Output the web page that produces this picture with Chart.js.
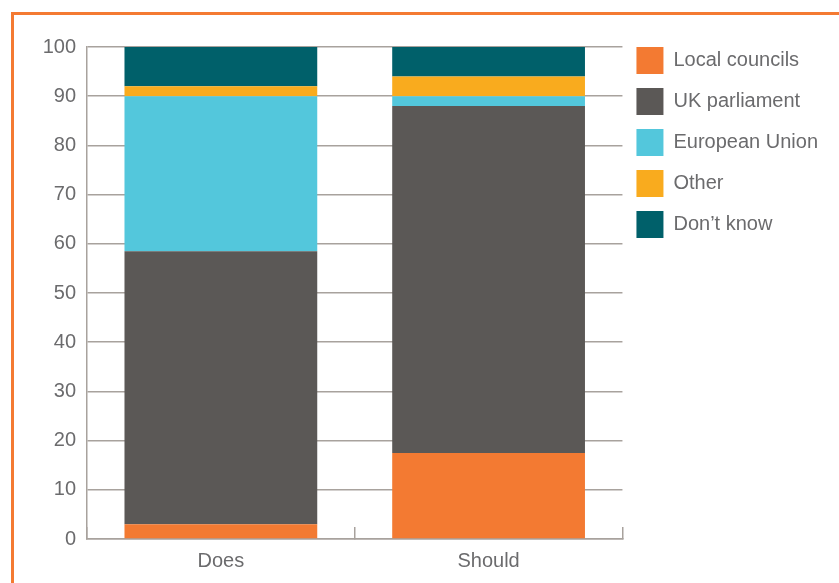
<!DOCTYPE html>
<html>
<head>
<meta charset="utf-8">
<script src="https://cdn.jsdelivr.net/npm/chart.js@4/dist/chart.umd.min.js"></script>
<style>
  html, body { margin: 0; padding: 0; background: #fff; overflow: hidden; }
  .frame {
    position: absolute; left: 11px; top: 12px;
    width: 1000px; height: 800px;
    border-left: 3px solid #f47a32; border-top: 3px solid #f47a32;
  }
  .wrap { position: absolute; left: 0; top: 0; width: 839px; height: 583px; }
</style>
</head>
<body>
<div class="frame"></div>
<div class="wrap"><canvas id="chart"></canvas></div>
<script>
const categories = ['Does', 'Should'];
const localCouncils = [3, 17.5];
const ukParliament = [55.5, 70.5];
const europeanUnion = [31.5, 2];
const other = [2, 4];
const dontKnow = [8, 6];
const yTicks = [0, 10, 20, 30, 40, 50, 60, 70, 80, 90, 100];

const gridColor = '#a8a29d';
const textColor = '#6b6b6d';
const font = { family: "'Liberation Sans', Arial, sans-serif", size: 20 };

const series = [
    { label: 'Local councils', data: localCouncils, color: '#f37a32' },
    { label: 'UK parliament', data: ukParliament, color: '#5b5856' },
    { label: 'European Union', data: europeanUnion, color: '#53c7dc' },
    { label: 'Other', data: other, color: '#f9ab1e' },
    { label: 'Don\u2019t know', data: dontKnow, color: '#00606a' }
];

new Chart(document.getElementById('chart'), {
    type: 'bar',
    data: {
        labels: categories,
        datasets: series.map(s => ({
            label: s.label,
            data: s.data,
            backgroundColor: s.color,
            borderWidth: 0,
            categoryPercentage: 1,
            barPercentage: 0.72
        }))
    },
    options: {
        responsive: true,
        maintainAspectRatio: false,
        animation: false,
        layout: { padding: { top: 33, right: 11, bottom: 0, left: 0 } },
        plugins: {
            // empty title only pushes the plot area down
            title: { display: true, text: '', font: { size: 10, lineHeight: 1 }, padding: { top: 0, bottom: 4 } },
            tooltip: { enabled: false },
            legend: {
                position: 'right',
                align: 'start',
                labels: {
                    boxWidth: 27,
                    boxHeight: 27,
                    padding: 14,
                    color: textColor,
                    font: font
                }
            }
        },
        scales: {
            x: {
                stacked: true,
                grid: {
                    display: true,
                    drawOnChartArea: false,
                    drawTicks: true,
                    tickLength: -12,
                    color: gridColor,
                    lineWidth: 1.5
                },
                border: { display: true, color: gridColor, width: 1.5 },
                ticks: { color: textColor, font: font, padding: 22 },
                afterFit: scale => { scale.height = 44; }
            },
            y: {
                stacked: true,
                min: 0,
                max: 100,
                afterBuildTicks: scale => { scale.ticks = yTicks.map(v => ({ value: v })); },
                grid: { color: gridColor, lineWidth: 1.5, drawTicks: false },
                border: { display: true, color: gridColor, width: 1.5 },
                ticks: { color: textColor, font: font, padding: 11 },
                afterFit: scale => { scale.width = 87; }
            }
        }
    }
});
</script>
</body>
</html>
